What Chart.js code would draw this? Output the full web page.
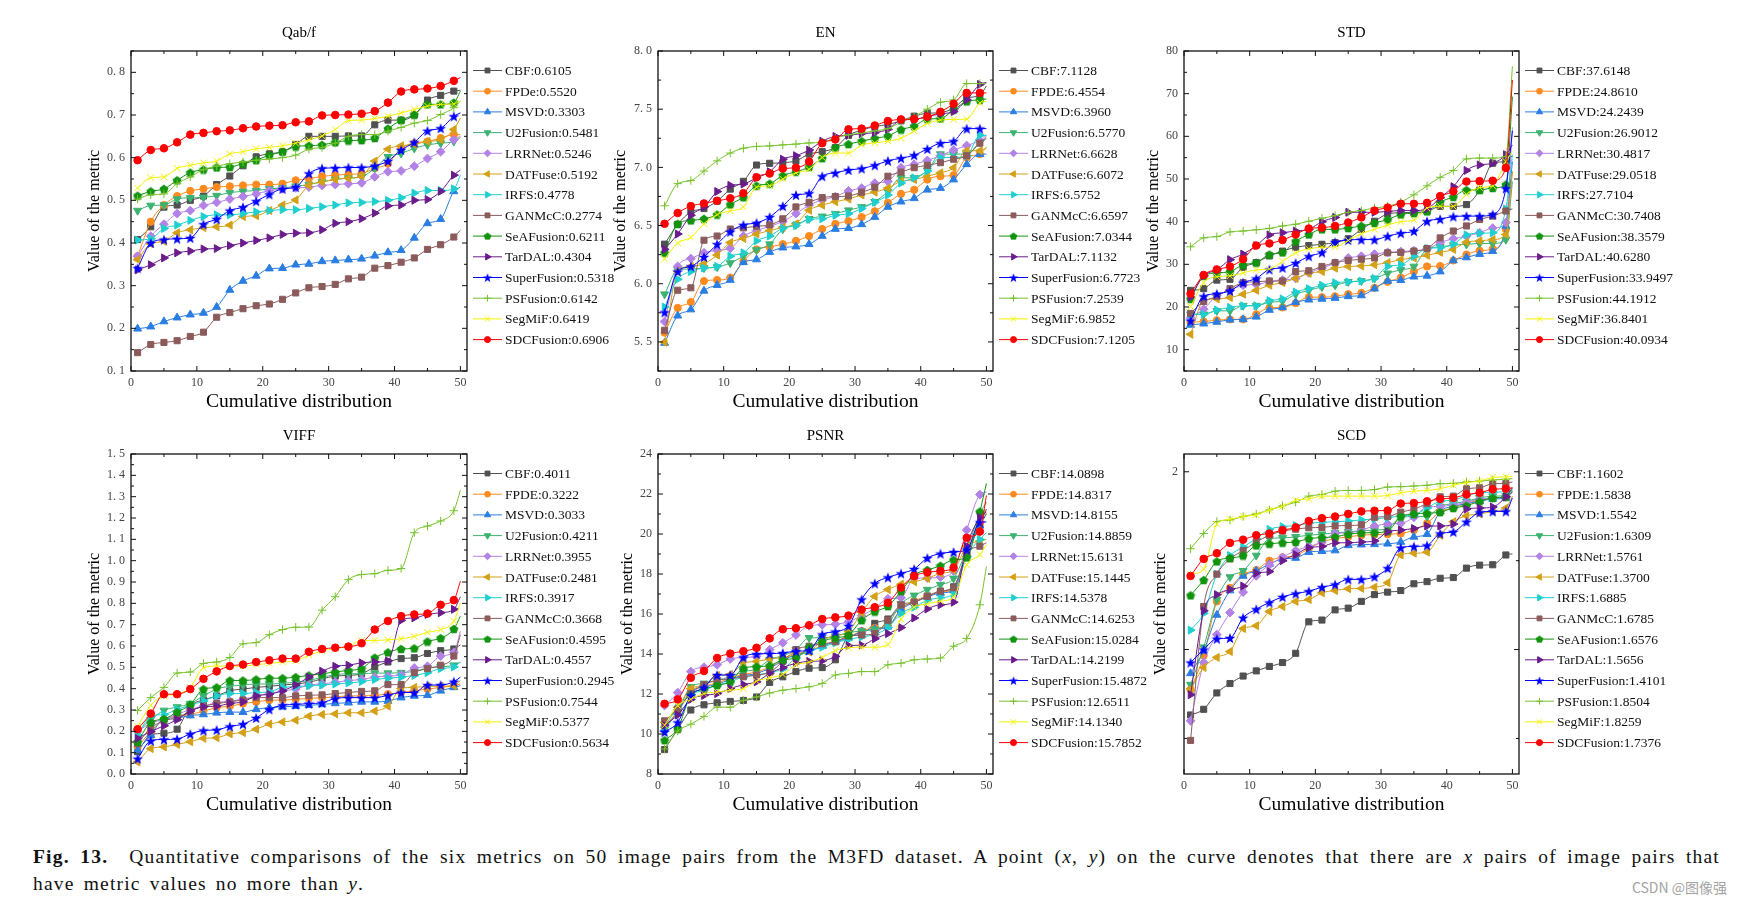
<!DOCTYPE html>
<html>
<head>
<meta charset="utf-8">
<title>Fig. 13</title>
<script src="https://cdn.jsdelivr.net/npm/chart.js@4.4.1/dist/chart.umd.min.js"></script>
<style>
  html, body { margin: 0; padding: 0; background: #fff; }
  body { width: 1741px; height: 904px; position: relative; overflow: hidden; font-family: "Liberation Serif", "Times New Roman", serif; }
  canvas.panel { position: absolute; }
  .cap { position: absolute; left: 33px; width: 1687px; font-size: 19.5px; line-height: 22px; letter-spacing: 1.2px; word-spacing: 3px; color: #111; }
  .cap.l1 { top: 846px; text-align: justify; text-align-last: justify; }
  .cap.l2 { top: 873px; }
  .mark { position: absolute; right: 14px; top: 877px; font: 14px "Noto Sans CJK SC", sans-serif; color: #a3a3a3; }
</style>
</head>
<body>
<div class="cap l1"><b>Fig. 13.</b>&nbsp; Quantitative comparisons of the six metrics on 50 image pairs from the M3FD dataset. A point (<i>x</i>, <i>y</i>) on the curve denotes that there are <i>x</i> pairs of image pairs that</div>
<div class="cap l2">have metric values no more than <i>y</i>.</div>
<div class="mark">CSDN @图像强</div>
<script>
document.addEventListener('DOMContentLoaded', () => {
    const SERIF = '"Liberation Serif", "Times New Roman", serif';

    // x positions of the plotted points (markers on the odd ones, curve ends at 50)
    const steps = [1, 3, 5, 7, 9, 11, 13, 15, 17, 19, 21, 23, 25, 27, 29, 31, 33, 35, 37, 39, 41, 43, 45, 47, 49, 50];
    const xTickValues = [0, 10, 20, 30, 40, 50];

    const methodNames = ['CBF', 'FPDE', 'MSVD', 'U2Fusion', 'LRRNet', 'DATFuse', 'IRFS', 'GANMcC', 'SeAFusion', 'TarDAL', 'SuperFusion', 'PSFusion', 'SegMiF', 'SDCFusion'];
    const qabfNames = ['CBF', 'FPDe', 'MSVD', 'U2Fusion', 'LRRNet', 'DATFuse', 'IRFS', 'GANMcC', 'SeAFusion', 'TarDAL', 'SuperFusion', 'PSFusion', 'SegMiF', 'SDCFusion'];

    // mean scores shown in the legends
    const qabfScores = ['0.6105', '0.5520', '0.3303', '0.5481', '0.5246', '0.5192', '0.4778', '0.2774', '0.6211', '0.4304', '0.5318', '0.6142', '0.6419', '0.6906'];
    const enScores = ['7.1128', '6.4554', '6.3960', '6.5770', '6.6628', '6.6072', '6.5752', '6.6597', '7.0344', '7.1132', '6.7723', '7.2539', '6.9852', '7.1205'];
    const stdScores = ['37.6148', '24.8610', '24.2439', '26.9012', '30.4817', '29.0518', '27.7104', '30.7408', '38.3579', '40.6280', '33.9497', '44.1912', '36.8401', '40.0934'];
    const viffScores = ['0.4011', '0.3222', '0.3033', '0.4211', '0.3955', '0.2481', '0.3917', '0.3668', '0.4595', '0.4557', '0.2945', '0.7544', '0.5377', '0.5634'];
    const psnrScores = ['14.0898', '14.8317', '14.8155', '14.8859', '15.6131', '15.1445', '14.5378', '14.6253', '15.0284', '14.2199', '15.4872', '12.6511', '14.1340', '15.7852'];
    const scdScores = ['1.1602', '1.5838', '1.5542', '1.6309', '1.5761', '1.3700', '1.6885', '1.6785', '1.6576', '1.5656', '1.4101', '1.8504', '1.8259', '1.7376'];

    // curves, one row per method in the legend order
    const qabfValues = [
        [0.408, 0.438, 0.484, 0.489, 0.500, 0.510, 0.537, 0.557, 0.581, 0.602, 0.609, 0.614, 0.631, 0.650, 0.650, 0.650, 0.651, 0.651, 0.677, 0.688, 0.688, 0.700, 0.735, 0.746, 0.756, 0.758],
        [0.369, 0.450, 0.489, 0.510, 0.522, 0.527, 0.531, 0.533, 0.535, 0.537, 0.537, 0.539, 0.547, 0.551, 0.556, 0.559, 0.561, 0.563, 0.575, 0.586, 0.622, 0.634, 0.638, 0.646, 0.654, 0.654],
        [0.199, 0.204, 0.216, 0.225, 0.232, 0.236, 0.250, 0.290, 0.311, 0.323, 0.340, 0.341, 0.349, 0.351, 0.357, 0.359, 0.361, 0.363, 0.370, 0.378, 0.383, 0.412, 0.446, 0.456, 0.521, 0.531],
        [0.476, 0.488, 0.489, 0.503, 0.506, 0.507, 0.511, 0.518, 0.521, 0.523, 0.527, 0.529, 0.533, 0.537, 0.543, 0.549, 0.552, 0.555, 0.575, 0.602, 0.610, 0.622, 0.630, 0.634, 0.638, 0.647],
        [0.369, 0.416, 0.444, 0.469, 0.476, 0.488, 0.495, 0.503, 0.509, 0.515, 0.523, 0.527, 0.529, 0.531, 0.535, 0.537, 0.539, 0.541, 0.555, 0.567, 0.569, 0.580, 0.598, 0.614, 0.642, 0.650],
        [0.361, 0.398, 0.404, 0.424, 0.431, 0.436, 0.438, 0.442, 0.462, 0.464, 0.476, 0.489, 0.501, 0.535, 0.543, 0.549, 0.552, 0.557, 0.592, 0.620, 0.628, 0.631, 0.638, 0.642, 0.666, 0.693],
        [0.407, 0.410, 0.434, 0.442, 0.453, 0.462, 0.466, 0.466, 0.469, 0.473, 0.476, 0.478, 0.478, 0.481, 0.485, 0.489, 0.494, 0.495, 0.497, 0.500, 0.506, 0.517, 0.523, 0.523, 0.527, 0.559],
        [0.143, 0.162, 0.167, 0.171, 0.181, 0.191, 0.226, 0.237, 0.246, 0.253, 0.257, 0.268, 0.283, 0.295, 0.298, 0.303, 0.316, 0.320, 0.341, 0.347, 0.355, 0.365, 0.385, 0.396, 0.414, 0.430],
        [0.511, 0.521, 0.527, 0.547, 0.565, 0.572, 0.577, 0.578, 0.586, 0.594, 0.606, 0.614, 0.626, 0.628, 0.630, 0.636, 0.640, 0.641, 0.646, 0.668, 0.688, 0.701, 0.725, 0.725, 0.729, 0.756],
        [0.337, 0.349, 0.365, 0.377, 0.381, 0.386, 0.387, 0.394, 0.400, 0.406, 0.412, 0.420, 0.423, 0.424, 0.431, 0.446, 0.450, 0.457, 0.470, 0.487, 0.489, 0.500, 0.502, 0.521, 0.559, 0.571],
        [0.341, 0.400, 0.408, 0.410, 0.412, 0.444, 0.456, 0.476, 0.484, 0.498, 0.514, 0.527, 0.531, 0.563, 0.575, 0.576, 0.577, 0.577, 0.581, 0.592, 0.618, 0.636, 0.663, 0.669, 0.697, 0.705],
        [0.503, 0.513, 0.515, 0.539, 0.555, 0.572, 0.580, 0.586, 0.590, 0.594, 0.597, 0.600, 0.606, 0.620, 0.624, 0.634, 0.650, 0.654, 0.654, 0.662, 0.671, 0.681, 0.687, 0.701, 0.717, 0.733],
        [0.529, 0.553, 0.555, 0.575, 0.582, 0.588, 0.592, 0.609, 0.614, 0.621, 0.624, 0.628, 0.634, 0.642, 0.651, 0.666, 0.687, 0.688, 0.692, 0.697, 0.705, 0.713, 0.721, 0.725, 0.726, 0.733],
        [0.594, 0.618, 0.622, 0.636, 0.654, 0.658, 0.662, 0.664, 0.669, 0.673, 0.675, 0.676, 0.683, 0.685, 0.699, 0.700, 0.701, 0.703, 0.709, 0.729, 0.755, 0.760, 0.762, 0.768, 0.780, 0.788]
    ];
    const enValues = [
        [6.34, 6.51, 6.617, 6.646, 6.71, 6.813, 6.88, 7.02, 7.035, 7.04, 7.056, 7.114, 7.135, 7.17, 7.275, 7.32, 7.35, 7.37, 7.40, 7.44, 7.465, 7.47, 7.51, 7.596, 7.62, 7.70],
        [5.579, 5.792, 5.842, 6.023, 6.032, 6.053, 6.193, 6.295, 6.316, 6.34, 6.368, 6.41, 6.47, 6.515, 6.538, 6.573, 6.623, 6.696, 6.772, 6.807, 6.895, 6.924, 6.933, 7.085, 7.114, 7.17],
        [5.491, 5.725, 5.778, 5.939, 5.988, 6.032, 6.184, 6.208, 6.272, 6.31, 6.319, 6.34, 6.41, 6.47, 6.477, 6.51, 6.573, 6.66, 6.705, 6.734, 6.807, 6.822, 6.895, 7.026, 7.114, 7.114],
        [5.91, 6.12, 6.126, 6.135, 6.143, 6.178, 6.237, 6.29, 6.34, 6.47, 6.506, 6.558, 6.579, 6.602, 6.632, 6.66, 6.705, 6.792, 6.91, 6.91, 6.974, 7.114, 7.114, 7.114, 7.216, 7.245],
        [5.675, 6.149, 6.216, 6.266, 6.287, 6.304, 6.41, 6.456, 6.494, 6.535, 6.602, 6.675, 6.719, 6.749, 6.798, 6.822, 6.865, 6.88, 6.997, 7.026, 7.06, 7.10, 7.149, 7.187, 7.23, 7.275],
        [5.497, 6.105, 6.149, 6.172, 6.246, 6.354, 6.389, 6.427, 6.456, 6.485, 6.515, 6.632, 6.675, 6.705, 6.728, 6.763, 6.787, 6.822, 6.88, 6.895, 6.924, 6.953, 6.997, 7.143, 7.143, 7.17],
        [5.80, 6.038, 6.105, 6.135, 6.149, 6.237, 6.266, 6.368, 6.41, 6.477, 6.50, 6.553, 6.558, 6.588, 6.602, 6.646, 6.70, 6.763, 6.865, 6.91, 6.968, 7.085, 7.085, 7.10, 7.275, 7.275],
        [5.60, 5.944, 5.965, 6.374, 6.41, 6.47, 6.48, 6.494, 6.506, 6.558, 6.66, 6.70, 6.74, 6.749, 6.754, 6.787, 6.83, 6.924, 6.959, 6.997, 7.018, 7.04, 7.07, 7.10, 7.208, 7.26],
        [6.266, 6.515, 6.544, 6.558, 6.594, 6.681, 6.743, 6.842, 6.86, 6.93, 6.962, 7.003, 7.079, 7.17, 7.20, 7.225, 7.25, 7.27, 7.325, 7.354, 7.415, 7.42, 7.494, 7.567, 7.58, 7.588],
        [6.295, 6.427, 6.588, 6.66, 6.792, 6.845, 6.857, 6.91, 6.962, 7.07, 7.10, 7.149, 7.225, 7.266, 7.275, 7.29, 7.298, 7.327, 7.406, 7.412, 7.436, 7.46, 7.48, 7.58, 7.713, 7.73],
        [5.754, 6.105, 6.149, 6.23, 6.34, 6.447, 6.506, 6.523, 6.573, 6.667, 6.763, 6.778, 6.924, 6.953, 6.977, 6.99, 7.018, 7.056, 7.079, 7.105, 7.158, 7.208, 7.225, 7.333, 7.333, 7.333],
        [6.67, 6.86, 6.886, 6.968, 7.056, 7.123, 7.164, 7.18, 7.184, 7.193, 7.20, 7.21, 7.216, 7.254, 7.28, 7.295, 7.313, 7.333, 7.39, 7.436, 7.50, 7.56, 7.58, 7.72, 7.72, 7.72],
        [6.213, 6.35, 6.398, 6.515, 6.594, 6.626, 6.66, 6.83, 6.842, 6.90, 6.953, 6.982, 7.085, 7.123, 7.123, 7.193, 7.21, 7.225, 7.25, 7.313, 7.377, 7.406, 7.412, 7.415, 7.553, 7.567],
        [6.515, 6.608, 6.667, 6.69, 6.713, 6.734, 6.778, 6.915, 6.947, 6.99, 6.997, 7.05, 7.208, 7.24, 7.327, 7.333, 7.36, 7.398, 7.412, 7.415, 7.436, 7.477, 7.547, 7.64, 7.64, 7.64]
    ];
    const stdValues = [
        [23.9, 24.3, 26.3, 26.5, 29.3, 30.4, 32.0, 33.1, 34.0, 34.4, 34.7, 35.1, 36.0, 38.2, 40.1, 41.8, 42.1, 42.2, 42.4, 43.6, 43.6, 44.0, 47.4, 53.7, 54.1, 55.5],
        [16.4, 16.6, 16.9, 17.1, 17.1, 18.3, 19.8, 19.9, 20.9, 22.3, 22.3, 22.5, 23.0, 23.3, 24.5, 25.9, 26.9, 28.3, 29.5, 29.6, 30.9, 32.3, 33.2, 33.6, 38.2, 51.8],
        [15.8, 16.1, 16.5, 17.0, 17.1, 17.7, 19.3, 19.9, 21.1, 21.7, 21.9, 22.1, 22.5, 22.7, 24.3, 26.1, 26.3, 27.1, 27.3, 28.3, 30.9, 31.6, 32.4, 33.1, 39.0, 54.1],
        [18.3, 18.3, 19.1, 19.1, 20.3, 20.3, 21.1, 21.4, 23.0, 23.9, 24.7, 25.1, 25.9, 26.1, 26.7, 27.9, 28.7, 29.5, 33.6, 34.1, 34.5, 34.7, 34.9, 34.9, 35.8, 49.4],
        [17.5, 19.5, 22.7, 23.9, 25.1, 25.3, 25.9, 26.3, 26.7, 28.0, 29.1, 30.3, 31.5, 31.9, 32.4, 32.8, 33.0, 33.2, 33.6, 35.1, 36.0, 36.6, 37.4, 38.5, 39.8, 62.1],
        [13.6, 21.5, 21.9, 22.2, 23.0, 23.9, 25.1, 25.7, 26.7, 27.9, 28.3, 29.1, 29.5, 29.6, 29.9, 30.4, 31.1, 31.5, 32.1, 32.8, 33.5, 35.2, 35.5, 35.8, 37.0, 51.8],
        [18.3, 18.3, 19.3, 19.9, 20.3, 20.3, 21.5, 21.9, 23.5, 24.3, 25.1, 25.7, 25.9, 26.1, 26.7, 29.5, 29.9, 31.9, 33.7, 33.9, 34.7, 36.9, 37.3, 37.4, 43.0, 55.7],
        [18.5, 21.3, 22.5, 24.3, 25.7, 25.9, 26.1, 26.1, 28.3, 28.5, 29.5, 30.4, 30.9, 31.2, 31.5, 32.7, 32.8, 33.1, 33.7, 36.2, 37.8, 39.0, 40.5, 41.3, 42.5, 43.0],
        [21.9, 27.3, 28.0, 28.3, 29.9, 30.4, 32.3, 32.8, 35.4, 37.0, 38.2, 38.2, 38.5, 39.0, 39.7, 40.5, 41.7, 42.0, 42.4, 44.6, 45.8, 47.4, 47.4, 47.9, 48.7, 69.3],
        [22.3, 27.3, 28.7, 31.1, 32.4, 34.4, 36.9, 37.4, 37.8, 38.2, 40.0, 41.0, 42.2, 42.2, 42.2, 42.4, 42.6, 42.6, 43.0, 45.6, 48.2, 52.0, 53.3, 53.7, 55.7, 58.0],
        [16.8, 22.5, 23.1, 23.8, 25.7, 26.7, 28.8, 29.2, 30.3, 31.9, 32.8, 35.2, 35.7, 35.8, 35.8, 36.6, 37.3, 37.8, 40.1, 40.6, 41.2, 41.3, 41.3, 41.7, 47.8, 61.3],
        [34.1, 36.2, 36.5, 37.6, 37.8, 38.1, 38.4, 39.0, 39.4, 40.1, 40.8, 41.4, 42.2, 42.6, 43.2, 43.6, 44.6, 46.3, 48.4, 50.4, 52.0, 54.7, 54.9, 54.9, 55.3, 76.4],
        [20.1, 25.7, 27.1, 27.3, 28.0, 28.7, 28.9, 30.7, 32.7, 33.6, 34.0, 34.1, 35.6, 37.2, 38.2, 39.2, 40.0, 40.4, 43.2, 43.6, 43.6, 46.4, 48.0, 48.4, 54.1, 56.5],
        [23.1, 27.5, 28.8, 29.5, 31.2, 34.4, 34.9, 35.7, 37.0, 38.4, 38.6, 39.0, 39.8, 41.0, 42.6, 43.3, 44.2, 44.2, 44.4, 46.0, 47.1, 49.4, 49.5, 49.6, 52.6, 73.2]
    ];
    const viffValues = [
        [0.104, 0.183, 0.191, 0.210, 0.318, 0.347, 0.366, 0.390, 0.398, 0.406, 0.411, 0.417, 0.422, 0.430, 0.446, 0.459, 0.462, 0.470, 0.502, 0.525, 0.541, 0.545, 0.565, 0.578, 0.586, 0.605],
        [0.127, 0.199, 0.255, 0.271, 0.279, 0.295, 0.311, 0.318, 0.330, 0.338, 0.346, 0.347, 0.350, 0.354, 0.358, 0.361, 0.366, 0.366, 0.369, 0.374, 0.382, 0.390, 0.398, 0.406, 0.414, 0.422],
        [0.111, 0.183, 0.258, 0.263, 0.274, 0.279, 0.287, 0.290, 0.290, 0.303, 0.311, 0.315, 0.318, 0.322, 0.326, 0.331, 0.334, 0.338, 0.338, 0.342, 0.358, 0.366, 0.369, 0.390, 0.406, 0.414],
        [0.199, 0.255, 0.298, 0.314, 0.330, 0.366, 0.398, 0.411, 0.417, 0.422, 0.422, 0.425, 0.430, 0.438, 0.454, 0.465, 0.470, 0.470, 0.473, 0.473, 0.475, 0.481, 0.497, 0.502, 0.510, 0.525],
        [0.199, 0.239, 0.255, 0.279, 0.303, 0.318, 0.334, 0.342, 0.350, 0.366, 0.377, 0.390, 0.398, 0.417, 0.422, 0.430, 0.438, 0.443, 0.454, 0.459, 0.465, 0.497, 0.505, 0.553, 0.570, 0.669],
        [0.056, 0.119, 0.127, 0.139, 0.151, 0.167, 0.170, 0.188, 0.194, 0.210, 0.234, 0.244, 0.252, 0.271, 0.279, 0.282, 0.287, 0.287, 0.295, 0.318, 0.401, 0.406, 0.411, 0.412, 0.414, 0.438],
        [0.183, 0.271, 0.279, 0.303, 0.322, 0.342, 0.366, 0.377, 0.377, 0.382, 0.385, 0.406, 0.409, 0.414, 0.417, 0.422, 0.427, 0.433, 0.443, 0.449, 0.454, 0.462, 0.475, 0.494, 0.502, 0.525],
        [0.143, 0.215, 0.250, 0.263, 0.295, 0.318, 0.330, 0.338, 0.347, 0.358, 0.358, 0.358, 0.366, 0.369, 0.371, 0.377, 0.382, 0.387, 0.390, 0.419, 0.419, 0.475, 0.494, 0.510, 0.553, 0.653],
        [0.151, 0.242, 0.258, 0.290, 0.326, 0.398, 0.406, 0.438, 0.438, 0.443, 0.449, 0.449, 0.454, 0.462, 0.470, 0.478, 0.486, 0.494, 0.545, 0.570, 0.586, 0.589, 0.621, 0.637, 0.680, 0.740],
        [0.167, 0.199, 0.226, 0.255, 0.295, 0.315, 0.318, 0.331, 0.338, 0.366, 0.374, 0.390, 0.417, 0.454, 0.482, 0.505, 0.510, 0.521, 0.525, 0.530, 0.720, 0.732, 0.748, 0.756, 0.772, 0.831],
        [0.072, 0.156, 0.162, 0.164, 0.188, 0.204, 0.207, 0.223, 0.234, 0.263, 0.303, 0.322, 0.326, 0.330, 0.334, 0.354, 0.358, 0.358, 0.358, 0.369, 0.382, 0.382, 0.417, 0.417, 0.433, 0.454],
        [0.298, 0.358, 0.406, 0.473, 0.478, 0.518, 0.525, 0.546, 0.610, 0.616, 0.653, 0.677, 0.688, 0.689, 0.768, 0.831, 0.911, 0.935, 0.939, 0.955, 0.963, 1.131, 1.162, 1.186, 1.234, 1.330],
        [0.223, 0.322, 0.366, 0.374, 0.406, 0.497, 0.506, 0.506, 0.506, 0.513, 0.518, 0.525, 0.530, 0.557, 0.576, 0.589, 0.597, 0.626, 0.626, 0.629, 0.634, 0.645, 0.664, 0.677, 0.717, 0.800],
        [0.210, 0.283, 0.374, 0.374, 0.398, 0.446, 0.481, 0.506, 0.513, 0.525, 0.533, 0.541, 0.541, 0.573, 0.586, 0.592, 0.597, 0.613, 0.677, 0.717, 0.740, 0.748, 0.752, 0.793, 0.815, 0.904]
    ];
    const psnrValues = [
        [9.22, 10.24, 11.2, 11.46, 11.56, 11.63, 11.68, 11.85, 12.58, 12.86, 13.12, 13.29, 13.32, 13.71, 14.85, 14.98, 15.53, 15.75, 16.34, 16.59, 16.9, 17.14, 17.36, 19.05, 20.49, 21.25],
        [10.35, 11.15, 12.15, 12.4, 12.55, 12.8, 12.98, 13.1, 13.35, 13.7, 14.0, 14.15, 14.42, 14.65, 14.85, 15.15, 15.3, 15.4, 16.25, 16.65, 16.9, 17.1, 17.25, 19.0, 20.5, 21.05],
        [10.27, 11.08, 12.1, 12.36, 12.47, 12.75, 12.92, 13.03, 13.29, 13.66, 13.97, 14.10, 14.39, 14.61, 14.81, 15.12, 15.24, 15.36, 16.2, 16.59, 16.85, 17.05, 17.19, 18.97, 20.41, 21.0],
        [10.24, 11.12, 12.36, 12.53, 12.69, 12.86, 13.12, 13.25, 13.71, 13.92, 14.22, 14.81, 14.81, 14.9, 15.07, 15.15, 15.24, 15.49, 16.51, 16.93, 17.22, 17.47, 17.78, 19.22, 21.0, 21.6],
        [11.42, 12.07, 13.12, 13.34, 13.46, 13.75, 13.83, 13.88, 14.22, 14.56, 14.95, 15.41, 15.46, 15.49, 15.61, 15.92, 16.29, 16.76, 16.81, 17.78, 17.8, 17.85, 18.15, 20.2, 21.97, 22.1],
        [10.58, 11.34, 12.27, 12.44, 12.92, 12.98, 13.54, 13.63, 13.75, 13.83, 13.97, 14.10, 14.68, 14.9, 15.12, 16.08, 16.88, 17.22, 17.49, 17.61, 17.78, 18.03, 18.2, 19.39, 19.64, 19.73],
        [10.41, 11.29, 11.97, 12.19, 12.44, 12.61, 12.86, 12.95, 13.08, 13.25, 13.80, 14.17, 14.34, 14.56, 14.73, 14.85, 14.98, 15.32, 16.03, 16.34, 16.68, 16.81, 17.02, 18.88, 19.73, 20.07],
        [10.66, 11.25, 12.02, 12.47, 12.69, 12.75, 12.86, 12.95, 13.08, 13.63, 14.22, 14.39, 14.51, 14.61, 14.90, 14.95, 15.02, 15.69, 16.46, 16.59, 16.88, 17.14, 17.31, 19.05, 19.39, 19.56],
        [9.69, 10.27, 11.93, 12.24, 12.44, 12.61, 13.29, 13.37, 13.42, 13.71, 13.80, 14.34, 14.64, 14.81, 14.95, 15.69, 16.12, 16.39, 17.14, 17.95, 18.2, 18.41, 18.71, 18.83, 21.12, 22.53],
        [10.44, 10.95, 11.73, 11.93, 12.02, 12.27, 12.47, 12.61, 13.03, 13.32, 13.54, 13.63, 13.66, 13.88, 14.42, 14.44, 14.76, 15.02, 15.32, 15.8, 16.25, 16.46, 16.59, 19.39, 20.83, 21.1],
        [10.10, 10.58, 11.93, 12.32, 12.95, 12.95, 13.83, 14.0, 14.02, 14.05, 14.14, 14.19, 14.98, 15.12, 15.41, 16.73, 17.53, 17.83, 18.03, 18.25, 18.80, 19.02, 19.10, 19.22, 20.58, 20.6],
        [9.25, 10.15, 10.49, 10.88, 11.34, 11.34, 11.68, 11.85, 12.05, 12.19, 12.27, 12.36, 12.53, 12.95, 13.03, 13.12, 13.12, 13.46, 13.54, 13.71, 13.75, 13.8, 14.39, 14.78, 16.46, 18.37],
        [10.44, 11.42, 11.73, 12.02, 12.1, 12.19, 12.27, 12.64, 12.81, 12.98, 13.46, 13.58, 13.83, 14.17, 14.31, 14.34, 14.34, 14.47, 15.75, 16.34, 16.51, 16.64, 16.85, 18.46, 18.97, 19.47],
        [11.51, 11.73, 12.81, 13.15, 13.80, 14.02, 14.14, 14.31, 14.78, 15.24, 15.29, 15.44, 15.75, 15.83, 15.92, 16.22, 16.34, 16.56, 17.32, 17.90, 18.08, 18.15, 18.32, 19.81, 20.12, 21.93]
    ];
    const scdValues = [
        [0.632, 0.664, 0.756, 0.809, 0.851, 0.880, 0.905, 0.927, 0.979, 1.156, 1.166, 1.223, 1.233, 1.271, 1.309, 1.323, 1.332, 1.370, 1.382, 1.401, 1.405, 1.458, 1.475, 1.477, 1.532, 1.538],
        [0.775, 0.966, 1.271, 1.347, 1.424, 1.447, 1.500, 1.519, 1.529, 1.567, 1.605, 1.624, 1.634, 1.643, 1.647, 1.649, 1.653, 1.672, 1.710, 1.777, 1.796, 1.824, 1.840, 1.853, 1.859, 1.882],
        [0.866, 0.994, 1.195, 1.332, 1.414, 1.443, 1.481, 1.510, 1.515, 1.548, 1.553, 1.557, 1.586, 1.590, 1.592, 1.595, 1.605, 1.634, 1.649, 1.777, 1.805, 1.821, 1.834, 1.847, 1.853, 1.891],
        [0.803, 1.013, 1.281, 1.408, 1.443, 1.529, 1.624, 1.628, 1.634, 1.643, 1.649, 1.656, 1.662, 1.668, 1.672, 1.681, 1.744, 1.748, 1.748, 1.805, 1.821, 1.834, 1.853, 1.863, 1.866, 1.900],
        [0.599, 0.927, 1.084, 1.208, 1.323, 1.414, 1.477, 1.519, 1.557, 1.580, 1.605, 1.653, 1.656, 1.672, 1.695, 1.706, 1.710, 1.744, 1.802, 1.805, 1.815, 1.828, 1.847, 1.853, 1.859, 1.882],
        [0.779, 0.899, 0.956, 0.989, 1.118, 1.134, 1.214, 1.242, 1.271, 1.281, 1.319, 1.332, 1.342, 1.344, 1.351, 1.376, 1.532, 1.542, 1.548, 1.643, 1.719, 1.752, 1.763, 1.777, 1.796, 1.863],
        [1.109, 1.204, 1.424, 1.529, 1.576, 1.624, 1.676, 1.691, 1.698, 1.710, 1.716, 1.719, 1.723, 1.729, 1.735, 1.742, 1.752, 1.758, 1.796, 1.834, 1.840, 1.866, 1.882, 1.885, 1.891, 1.910],
        [0.489, 1.242, 1.424, 1.510, 1.557, 1.605, 1.643, 1.666, 1.677, 1.685, 1.687, 1.695, 1.698, 1.702, 1.744, 1.748, 1.773, 1.790, 1.821, 1.859, 1.863, 1.905, 1.910, 1.933, 1.935, 1.943],
        [1.305, 1.391, 1.496, 1.515, 1.529, 1.586, 1.595, 1.601, 1.605, 1.624, 1.630, 1.634, 1.649, 1.656, 1.658, 1.666, 1.748, 1.763, 1.767, 1.773, 1.796, 1.809, 1.834, 1.853, 1.859, 1.891],
        [0.746, 1.218, 1.309, 1.338, 1.357, 1.429, 1.439, 1.500, 1.534, 1.573, 1.580, 1.600, 1.601, 1.605, 1.611, 1.662, 1.672, 1.681, 1.695, 1.695, 1.706, 1.790, 1.796, 1.802, 1.859, 1.910],
        [0.927, 1.000, 1.061, 1.065, 1.179, 1.227, 1.265, 1.296, 1.315, 1.328, 1.351, 1.366, 1.395, 1.395, 1.410, 1.458, 1.573, 1.580, 1.586, 1.653, 1.662, 1.719, 1.771, 1.777, 1.777, 1.853],
        [1.567, 1.653, 1.720, 1.729, 1.748, 1.763, 1.786, 1.809, 1.828, 1.863, 1.872, 1.891, 1.895, 1.895, 1.900, 1.914, 1.916, 1.920, 1.924, 1.933, 1.935, 1.943, 1.948, 1.954, 1.958, 1.962],
        [1.424, 1.452, 1.706, 1.733, 1.748, 1.758, 1.786, 1.805, 1.840, 1.847, 1.863, 1.863, 1.863, 1.863, 1.863, 1.866, 1.882, 1.891, 1.895, 1.905, 1.924, 1.939, 1.948, 1.968, 1.971, 1.973],
        [1.414, 1.510, 1.542, 1.600, 1.618, 1.643, 1.653, 1.672, 1.687, 1.723, 1.739, 1.748, 1.763, 1.777, 1.781, 1.782, 1.821, 1.824, 1.834, 1.847, 1.853, 1.872, 1.882, 1.901, 1.905, 1.910]
    ];

    // small canvases for the marker shapes Chart.js lacks
    const shape = (color, size, draw) => {
        const c = document.createElement('canvas');
        c.width = c.height = size;
        const g = c.getContext('2d');
        g.fillStyle = color;
        draw(g, size / 2);
        return c;
    };
    const pentagon = shape('#12940f', 10, (g, r) => {
        g.beginPath();
        for (let k = 0; k < 5; k++) {
            const a = -Math.PI / 2 + k * 2 * Math.PI / 5;
            g.lineTo(r + (r - 0.3) * Math.cos(a), r + 0.4 + (r - 0.3) * Math.sin(a));
        }
        g.closePath();
        g.fill();
    });
    const star = shape('#0000ff', 12, (g, r) => {
        g.beginPath();
        for (let k = 0; k < 10; k++) {
            const a = -Math.PI / 2 + k * Math.PI / 5;
            const rr = k % 2 ? 2.3 : r - 0.3;
            g.lineTo(r + rr * Math.cos(a), r + 0.6 + rr * Math.sin(a));
        }
        g.closePath();
        g.fill();
    });

    const looks = [
        { color: '#505050', style: 'rect', radius: 4.3 },
        { color: '#ff8a1e', style: 'circle', radius: 3.6 },
        { color: '#2a7de1', style: 'triangle', radius: 4.6 },
        { color: '#3cb371', style: 'triangle', rotation: 180, radius: 4.6 },
        { color: '#b382e6', style: 'rectRot', radius: 4.4 },
        { color: '#d4a017', style: 'triangle', rotation: -90, radius: 4.6 },
        { color: '#1fcfcf', style: 'triangle', rotation: 90, radius: 4.6 },
        { color: '#8b5b5b', style: 'rect', radius: 4.3 },
        { color: '#12940f', style: pentagon, radius: 4 },
        { color: '#6a1b8c', style: 'triangle', rotation: 90, radius: 4.6 },
        { color: '#0000ff', style: star, radius: 4 },
        { color: '#76c22b', style: 'cross', radius: 4.2 },
        { color: '#f2f200', style: 'crossRot', radius: 4.5 },
        { color: '#ff0000', style: 'circle', radius: 3.8 }
    ];

    const panels = [
        { title: 'Qab/f', names: qabfNames, scores: qabfScores, values: qabfValues, left: 131, top: 51, w: 336, yMin: 0.1, yMax: 0.85, yStep: 0.1, yMinor: 0.05, yGap: 36, digits: 1 },
        { title: 'EN', names: methodNames, scores: enScores, values: enValues, left: 658, top: 51, w: 335, yMin: 5.25, yMax: 8.0, yStep: 0.5, yMinor: 0.25, yGap: 37, digits: 1 },
        { title: 'STD', names: methodNames, scores: stdScores, values: stdValues, left: 1184, top: 51, w: 335, yMin: 5, yMax: 80, yStep: 10, yMinor: 5, yGap: 30, digits: 0 },
        { title: 'VIFF', names: methodNames, scores: viffScores, values: viffValues, left: 131, top: 454, w: 336, yMin: 0, yMax: 1.5, yStep: 0.1, yMinor: 0.05, yGap: 36, digits: 1 },
        { title: 'PSNR', names: methodNames, scores: psnrScores, values: psnrValues, left: 658, top: 454, w: 335, yMin: 8, yMax: 24, yStep: 2, yMinor: 1, yGap: 30, digits: 0 },
        { title: 'SCD', names: methodNames, scores: scdScores, values: scdValues, left: 1184, top: 454, w: 335, yMin: 0.3, yMax: 2.1, yStep: 1, yMinor: 0.5, yGap: 23, digits: 0, labelOnly: 2 }
    ];

    const PLOT_H = 320, TOP_PAD = 31, XH = 43, LEGEND_W = 175;
    const onStep = (v, step) => Math.abs(v / step - Math.round(v / step)) < 1e-6;

    // closed box with inward major/minor ticks on all four sides
    const frameTicks = {
        id: 'frameTicks',
        afterDatasetsDraw(chart, args, opts) {
            const { ctx, chartArea: a, scales } = chart;
            ctx.save();
            ctx.strokeStyle = '#111';
            ctx.lineWidth = 1;
            const ticksFor = (scale, minor, major, cb) => {
                const first = Math.ceil(scale.min / minor - 1e-9);
                const last = Math.floor(scale.max / minor + 1e-9);
                for (let k = first; k <= last; k++) {
                    const v = k * minor;
                    cb(scale.getPixelForValue(v), onStep(v, major) ? 5 : 3);
                }
            };
            ctx.beginPath();
            ticksFor(scales.x, opts.xMinor, opts.xMajor, (px, len) => {
                ctx.moveTo(px, a.bottom); ctx.lineTo(px, a.bottom - len);
                ctx.moveTo(px, a.top); ctx.lineTo(px, a.top + len);
            });
            ticksFor(scales.y, opts.yMinor, opts.yMajor, (py, len) => {
                ctx.moveTo(a.left, py); ctx.lineTo(a.left + len, py);
                ctx.moveTo(a.right, py); ctx.lineTo(a.right - len, py);
            });
            ctx.stroke();
            ctx.lineWidth = 1.3;
            ctx.strokeRect(a.left, a.top, a.right - a.left, a.bottom - a.top);
            ctx.restore();
        }
    };

    // legend to the right of the plot: line with its marker, then label
    const sideLegend = {
        id: 'sideLegend',
        afterDraw(chart) {
            const { ctx, chartArea: a } = chart;
            ctx.save();
            ctx.font = '13.5px ' + SERIF;
            ctx.textBaseline = 'middle';
            ctx.textAlign = 'left';
            chart.data.datasets.forEach((ds, i) => {
                const y = a.top + 19.5 + i * 20.7;
                const x0 = a.right + 6;
                ctx.strokeStyle = ds.borderColor;
                ctx.fillStyle = ds.borderColor;
                ctx.lineWidth = 1;
                ctx.beginPath();
                ctx.moveTo(x0, y);
                ctx.lineTo(x0 + 29, y);
                ctx.stroke();
                const st = ds.pointStyle;
                if (typeof st === 'string') {
                    Chart.helpers.drawPoint(ctx, { pointStyle: st, rotation: ds.pointRotation || 0, radius: ds.legendRadius, borderWidth: 1 }, x0 + 14.5, y);
                } else {
                    const s = 0.85;
                    ctx.drawImage(st, x0 + 14.5 - st.width * s / 2, y - st.height * s / 2, st.width * s, st.height * s);
                }
                ctx.fillStyle = '#111';
                ctx.fillText(ds.label, x0 + 32, y + 1);
            });
            ctx.restore();
        }
    };

    panels.forEach((p) => {
        const yw = Math.round(p.yGap + 9.6);
        const canvas = document.createElement('canvas');
        canvas.className = 'panel';
        canvas.width = yw + p.w + LEGEND_W;
        canvas.height = TOP_PAD + PLOT_H + XH;
        canvas.style.left = (p.left - yw) + 'px';
        canvas.style.top = (p.top - TOP_PAD) + 'px';
        document.body.appendChild(canvas);

        const datasets = p.values.map((row, i) => {
            const lk = looks[i];
            return {
                label: p.names[i] + ':' + p.scores[i],
                data: row.map((v, k) => ({ x: steps[k], y: v })),
                borderColor: lk.color,
                backgroundColor: lk.color,
                borderWidth: 1,
                pointStyle: lk.style,
                pointRotation: lk.rotation || 0,
                pointBackgroundColor: lk.color,
                pointBorderColor: lk.color,
                pointBorderWidth: 1,
                pointRadius: (c) => (c.raw && c.raw.x % 2 === 1 ? lk.radius : 0),
                legendRadius: lk.radius * 0.8,
                cubicInterpolationMode: 'monotone',
                fill: false,
                order: 13 - i
            };
        });

        const fmt = (v) => {
            if (p.labelOnly !== undefined) return Math.abs(v - p.labelOnly) < 1e-6 ? String(p.labelOnly) : '';
            return p.digits ? v.toFixed(p.digits).replace('.', '. ') : String(Math.round(v));
        };
        const yTicks = [];
        for (let k = Math.ceil(p.yMin / p.yStep - 1e-9); k <= Math.floor(p.yMax / p.yStep + 1e-9); k++) {
            yTicks.push({ value: +(k * p.yStep).toFixed(6) });
        }

        new Chart(canvas, {
            type: 'line',
            data: { datasets },
            options: {
                responsive: false,
                animation: false,
                devicePixelRatio: 1,
                events: [],
                layout: { padding: { top: 4, right: LEGEND_W, bottom: 0, left: 0 } },
                plugins: {
                    legend: { display: false },
                    tooltip: { enabled: false },
                    title: {
                        display: true,
                        text: p.title,
                        fullSize: false,
                        color: '#000',
                        font: { family: SERIF, size: 15, weight: 'normal' },
                        padding: { top: 0, bottom: 9 }
                    },
                    frameTicks: { xMinor: 5, xMajor: 10, yMinor: p.yMinor, yMajor: p.yStep }
                },
                scales: {
                    x: {
                        type: 'linear',
                        min: 0,
                        max: 51,
                        grid: { display: false, drawTicks: false },
                        border: { display: false },
                        ticks: { autoSkip: false, maxRotation: 0, padding: 5, color: '#444', font: { family: SERIF, size: 12 } },
                        title: { display: true, text: 'Cumulative distribution', color: '#000', font: { family: SERIF, size: 19.5 }, padding: 0 },
                        afterBuildTicks: (s) => { s.ticks = xTickValues.map((v) => ({ value: v })); },
                        afterFit: (s) => { s.height = XH; s.paddingLeft = 0; s.paddingRight = 0; }
                    },
                    y: {
                        type: 'linear',
                        min: p.yMin,
                        max: p.yMax,
                        grid: { display: false, drawTicks: false },
                        border: { display: false },
                        ticks: { autoSkip: false, padding: 6, color: '#444', font: { family: SERIF, size: 12 }, callback: fmt },
                        title: { display: true, text: 'Value of the metric', color: '#000', font: { family: SERIF, size: 16 }, padding: 0 },
                        afterBuildTicks: (s) => { s.ticks = yTicks.map((t) => ({ value: t.value })); },
                        afterFit: (s) => { s.width = yw; s.paddingTop = 0; s.paddingBottom = 0; }
                    }
                }
            },
            plugins: [frameTicks, sideLegend]
        });
    });
});
</script>
</body>
</html>
